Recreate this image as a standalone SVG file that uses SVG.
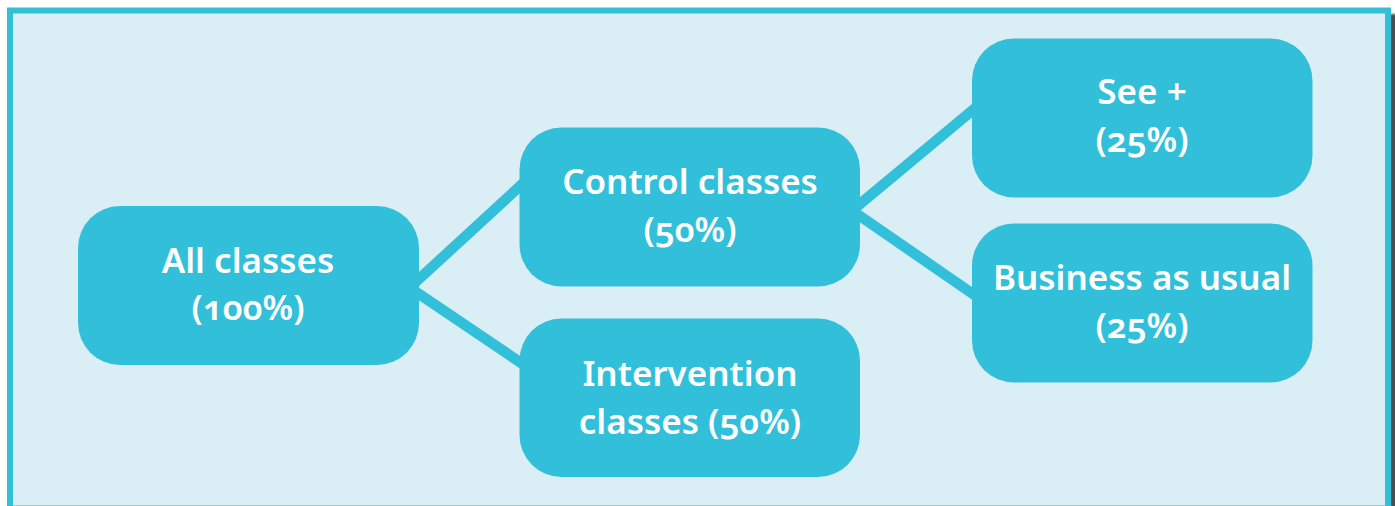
<svg xmlns="http://www.w3.org/2000/svg" width="1395" height="506" viewBox="0 0 1395 506">
  <style>
    .node rect { fill: #31bfd9; }
    .node text { fill: #ffffff; font-family: "Noto Sans", "Open Sans", "DejaVu Sans", sans-serif; font-weight: 600; font-size: 35px; text-anchor: middle; font-feature-settings: "onum" 1; font-variant-numeric: oldstyle-nums; }
    .link { stroke: #31bfd9; stroke-width: 10.5; stroke-linecap: butt; fill: none; }
  </style>
  <defs>
    <filter id="soft" x="-50%" y="-5%" width="200%" height="110%">
      <feGaussianBlur stdDeviation="1.2"/>
    </filter>
  </defs>

  <!-- page -->
  <rect x="0" y="0" width="1395" height="506" fill="#ffffff"/>
  <!-- panel shadow on the right -->
  <rect x="1390" y="14" width="8" height="500" fill="#4d4d4d" filter="url(#soft)"/>
  <!-- panel -->
  <rect x="10" y="10.5" width="1378" height="498" fill="#daeef5" stroke="#33bfd8" stroke-width="6"/>

  <!-- connectors -->
  <g id="connectors">
    <line class="link" x1="400" y1="296.5" x2="540" y2="167.7"/>
    <line class="link" x1="400" y1="281.2" x2="540" y2="375.7"/>
    <line class="link" x1="840" y1="220.6" x2="990" y2="95.8"/>
    <line class="link" x1="840" y1="202.2" x2="990" y2="305.7"/>
  </g>

  <!-- nodes -->
  <g id="node-all" class="node">
    <rect x="78" y="206" width="341" height="159" rx="42"/>
    <text x="248" y="272.5">All classes</text>
    <text x="248" y="320">(100%)</text>
  </g>
  <g id="node-control" class="node">
    <rect x="519.5" y="127.5" width="340.5" height="159" rx="42"/>
    <text x="690" y="194">Control classes</text>
    <text x="690" y="242">(50%)</text>
  </g>
  <g id="node-intervention" class="node">
    <rect x="519.5" y="318.5" width="340.5" height="158.5" rx="42"/>
    <text x="690" y="386">Intervention</text>
    <text x="690" y="434">classes (50%)</text>
  </g>
  <g id="node-see" class="node">
    <rect x="972" y="38.5" width="340.5" height="159" rx="42"/>
    <text x="1142" y="104">See +</text>
    <text x="1142" y="152">(25%)</text>
  </g>
  <g id="node-bau" class="node">
    <rect x="972" y="223.5" width="340.5" height="159" rx="42"/>
    <text x="1142" y="290">Business as usual</text>
    <text x="1142" y="338">(25%)</text>
  </g>
</svg>
